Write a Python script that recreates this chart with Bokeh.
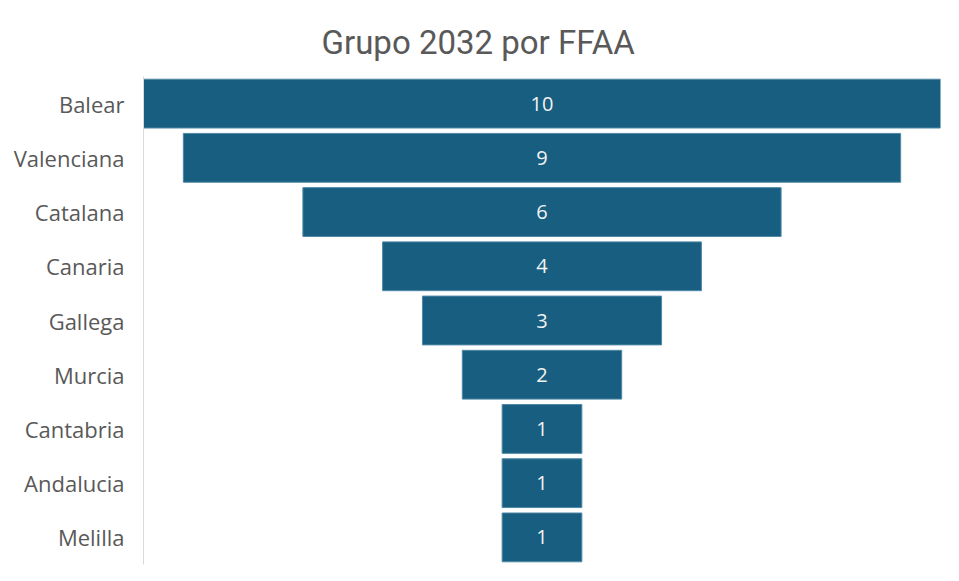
from bokeh.plotting import figure
from bokeh.models import ColumnDataSource, Range1d, FactorRange, LabelSet
from bokeh.core.properties import value
from bokeh.embed import file_html
from bokeh.resources import INLINE

categories = ["Balear", "Valenciana", "Catalana", "Canaria", "Gallega", "Murcia", "Cantabria", "Andalucia", "Melilla"]
values = [10, 9, 6, 4, 3, 2, 1, 1, 1]

src = ColumnDataSource(dict(
    cat=categories,
    val=values,
    left=[-v / 2 for v in values],
    right=[v / 2 for v in values],
    mid=[0 for _ in values],
    lab=[str(v) for v in values],
))

p = figure(width=951, height=573, output_backend="svg", toolbar_location=None,
           y_range=FactorRange(factors=categories[::-1], range_padding=0),
           x_range=Range1d(-5, 5),
           min_border_left=143, min_border_right=11, min_border_top=76, min_border_bottom=9,
           title="Grupo 2032 por FFAA")
p.title.align = "left"
p.title.offset = 178
p.title.standoff = 29
p.title.text_font = "Roboto"
p.title.text_font_size = "33px"
p.title.text_font_style = "normal"
p.title.text_color = "#595959"

p.hbar(y="cat", left="left", right="right", height=0.9, source=src,
       fill_color="#175E80", line_color="#4F88A5", line_width=1)

labels = LabelSet(x="mid", y="cat", text="lab", source=src, text_align="center",
                  text_baseline="middle", text_color="#F2F2F2", text_font=value("Open Sans"),
                  text_font_size="20px")
p.add_layout(labels)

p.xaxis.visible = False
p.xgrid.visible = False
p.ygrid.visible = False
p.outline_line_color = None
p.yaxis.axis_line_color = "#D9D9D9"
p.yaxis.major_tick_line_color = None
p.yaxis.minor_tick_line_color = None
p.yaxis.major_label_text_font = "Open Sans"
p.yaxis.major_label_text_font_size = "22px"
p.yaxis.major_label_text_color = "#595959"
p.yaxis.major_label_standoff = 13

open("out.html", "w").write(file_html(p, INLINE))
